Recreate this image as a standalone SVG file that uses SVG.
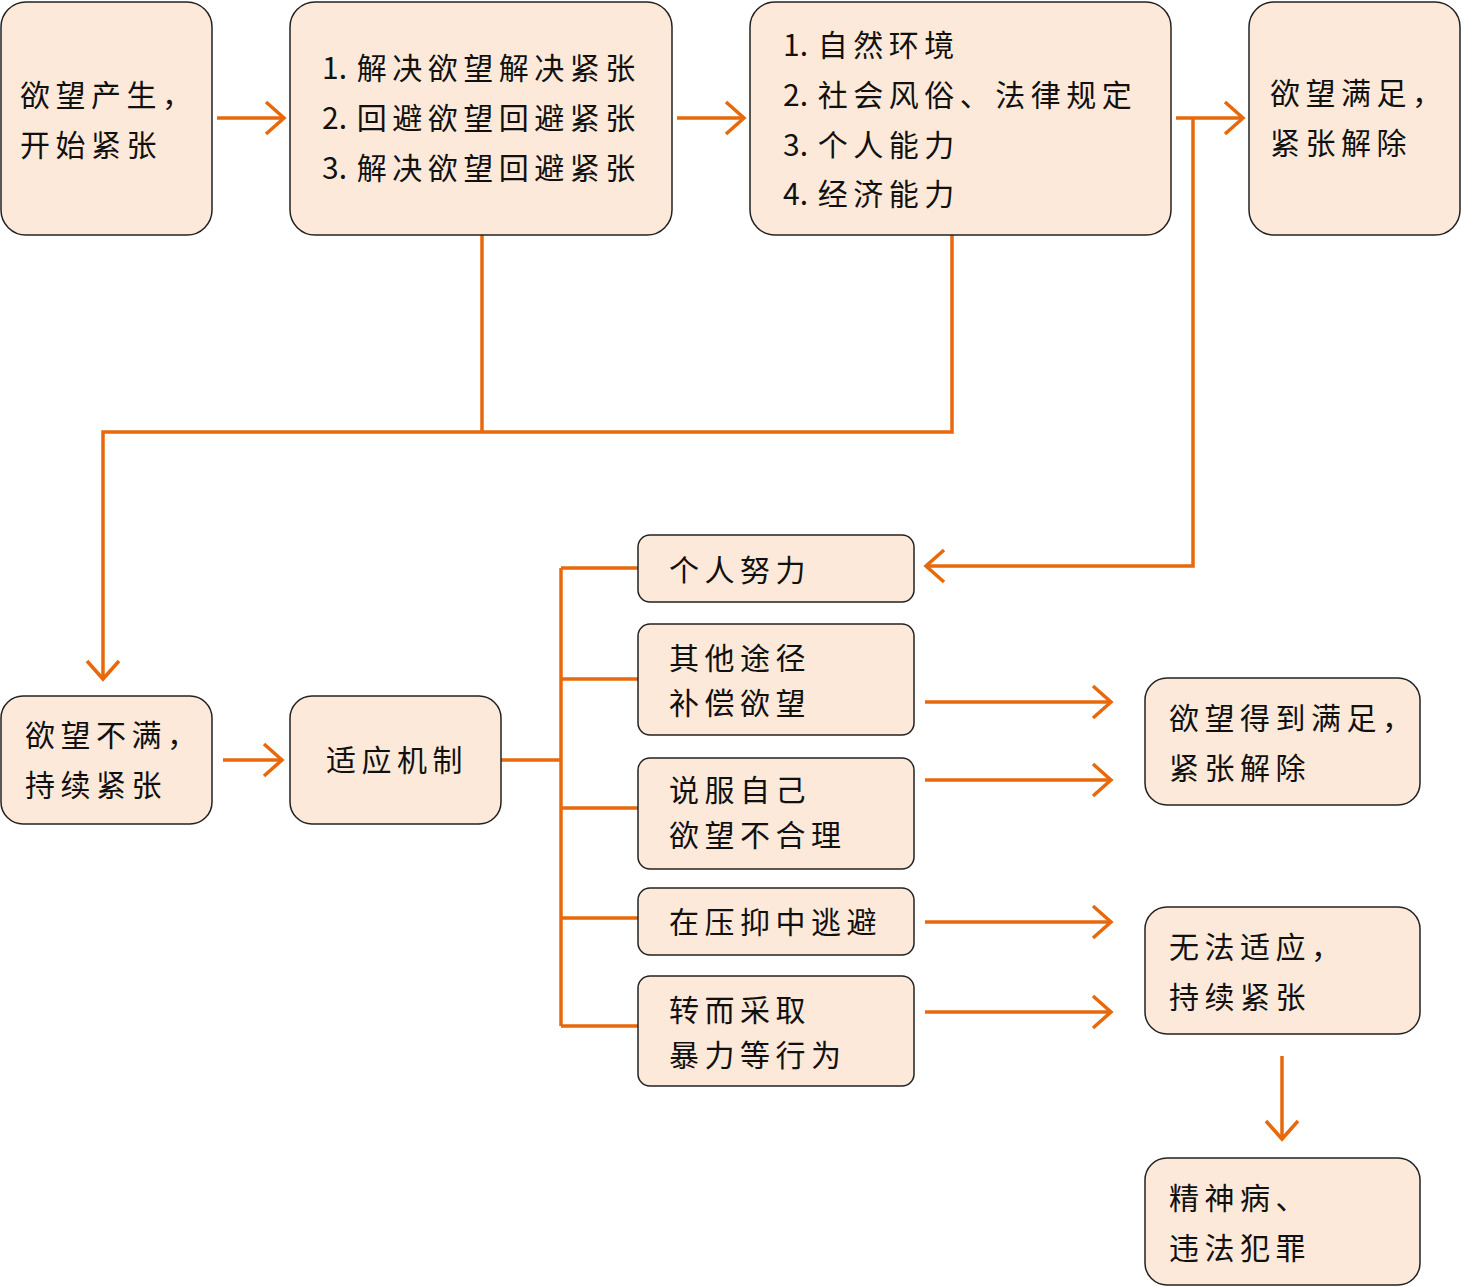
<svg xmlns="http://www.w3.org/2000/svg" width="1462" height="1287" viewBox="0 0 1462 1287">
<style>
.box{fill:#FDE9D9;stroke:#222;stroke-width:1.5}
.t{font-family:"Noto Sans CJK SC","Noto Sans",sans-serif;font-size:30px;fill:#111;letter-spacing:5.5px}
.n{letter-spacing:0}
.c{fill:none;stroke:#E8680C;stroke-width:3.5;stroke-linejoin:miter}
</style>
<defs>
<marker id="ah" markerUnits="userSpaceOnUse" markerWidth="40" markerHeight="40" viewBox="-20 -20 40 40" refX="0" refY="0" orient="auto">
<path d="M-18,-16 L0,0 L-18,16" fill="none" stroke="#E8680C" stroke-width="3.5"/>
</marker>
</defs>
<rect width="1462" height="1287" fill="#fff"/>
<g id="connectors">
<path class="c" d="M217,118 H284" marker-end="url(#ah)"/>
<path class="c" d="M677,118 H744" marker-end="url(#ah)"/>
<path class="c" d="M1176,118 H1243" marker-end="url(#ah)"/>
<path class="c" d="M1193,118 V566 H926" marker-end="url(#ah)"/>
<path class="c" d="M482,235 V432"/>
<path class="c" d="M952,235 V432 H103 V679" marker-end="url(#ah)"/>
<path class="c" d="M223,760 H282" marker-end="url(#ah)"/>
<path class="c" d="M501,760 H561"/>
<path class="c" d="M561,568 V1026"/>
<path class="c" d="M561,568 H638 M561,679 H638 M561,808 H638 M561,918 H638 M561,1026 H638"/>
<path class="c" d="M925,702 H1111" marker-end="url(#ah)"/>
<path class="c" d="M925,780 H1111" marker-end="url(#ah)"/>
<path class="c" d="M925,922 H1111" marker-end="url(#ah)"/>
<path class="c" d="M925,1012 H1111" marker-end="url(#ah)"/>
<path class="c" d="M1282,1056 V1139" marker-end="url(#ah)"/>
</g>
<g id="n1"><rect class="box" x="1" y="2" width="211" height="233" rx="25"/>
<text class="t" x="20" y="106">欲望产生，</text><text class="t" x="20" y="156">开始紧张</text></g>
<g id="n2"><rect class="box" x="290" y="2" width="382" height="233" rx="25"/>
<text class="t" x="322" y="79"><tspan class="n">1. </tspan><tspan dx="3">解决欲望解决紧张</tspan></text>
<text class="t" x="322" y="129"><tspan class="n">2. </tspan><tspan dx="3">回避欲望回避紧张</tspan></text>
<text class="t" x="322" y="179"><tspan class="n">3. </tspan><tspan dx="3">解决欲望回避紧张</tspan></text></g>
<g id="n3"><rect class="box" x="750" y="2" width="421" height="233" rx="25"/>
<text class="t" x="783" y="56"><tspan class="n">1. </tspan><tspan dx="3">自然环境</tspan></text>
<text class="t" x="783" y="106"><tspan class="n">2. </tspan><tspan dx="3">社会风俗、法律规定</tspan></text>
<text class="t" x="783" y="156"><tspan class="n">3. </tspan><tspan dx="3">个人能力</tspan></text>
<text class="t" x="783" y="205"><tspan class="n">4. </tspan><tspan dx="3">经济能力</tspan></text></g>
<g id="n4"><rect class="box" x="1249" y="2" width="211" height="233" rx="25"/>
<text class="t" x="1270" y="104">欲望满足，</text><text class="t" x="1270" y="154">紧张解除</text></g>
<g id="n5"><rect class="box" x="1" y="696" width="211" height="128" rx="22"/>
<text class="t" x="25" y="746">欲望不满，</text><text class="t" x="25" y="796">持续紧张</text></g>
<g id="n6"><rect class="box" x="290" y="696" width="211" height="128" rx="22"/>
<text class="t" x="326" y="771">适应机制</text></g>
<g id="n7"><rect class="box" x="638" y="535" width="276" height="67" rx="12"/>
<text class="t" x="669" y="581">个人努力</text></g>
<g id="n8"><rect class="box" x="638" y="624" width="276" height="111" rx="12"/>
<text class="t" x="669" y="669">其他途径</text><text class="t" x="669" y="714">补偿欲望</text></g>
<g id="n9"><rect class="box" x="638" y="758" width="276" height="111" rx="12"/>
<text class="t" x="669" y="801">说服自己</text><text class="t" x="669" y="846">欲望不合理</text></g>
<g id="n10"><rect class="box" x="638" y="888" width="276" height="67" rx="12"/>
<text class="t" x="669" y="933">在压抑中逃避</text></g>
<g id="n11"><rect class="box" x="638" y="976" width="276" height="110" rx="12"/>
<text class="t" x="669" y="1021">转而采取</text><text class="t" x="669" y="1066">暴力等行为</text></g>
<g id="n12"><rect class="box" x="1145" y="678" width="275" height="127" rx="22"/>
<text class="t" x="1169" y="729">欲望得到满足，</text><text class="t" x="1169" y="779">紧张解除</text></g>
<g id="n13"><rect class="box" x="1145" y="907" width="275" height="127" rx="22"/>
<text class="t" x="1169" y="958">无法适应，</text><text class="t" x="1169" y="1008">持续紧张</text></g>
<g id="n14"><rect class="box" x="1145" y="1158" width="275" height="127" rx="22"/>
<text class="t" x="1169" y="1209">精神病、</text><text class="t" x="1169" y="1259">违法犯罪</text></g>
</svg>
